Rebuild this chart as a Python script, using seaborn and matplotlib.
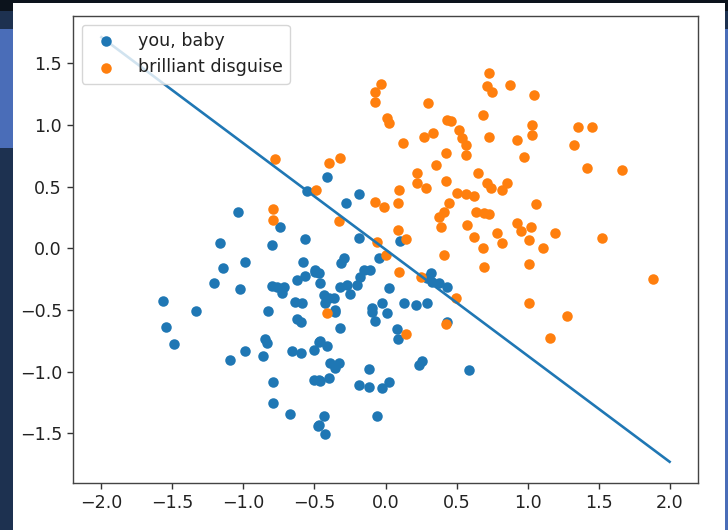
import numpy as np
import pandas as pd
import matplotlib
matplotlib.use("Agg")
import matplotlib.pyplot as plt
from matplotlib.patches import Rectangle
import seaborn as sns

# Class labels
class_names = ["you, baby", "brilliant disguise"]

# Class 0 samples
baby_x = [-1.036, -0.746, -0.553, -1.165, -0.80, -0.57, -0.989, -1.146, -0.581, -1.208,
          -1.024, -0.80, -0.765, -0.718, -0.729, -0.624, -0.565, -0.494, -1.566, -1.335,
          -0.829, -0.636, -0.588, -0.624, -0.593, -1.547, -1.488, -0.845, -0.836, -0.986,
          -1.095, -0.864, -0.659, -0.593, -0.501, -0.471, -0.793, -0.506, -0.471, -0.793,
          -0.675, -0.475, -0.353, -0.094, -0.071, 0.012, -0.318, 0.078, 0.087, 0.43,
          -0.459, -0.412, -0.388, -0.33, -0.353, -0.118, 0.235, 0.259, 0.588, -0.459,
          -0.40, -0.188, -0.118, -0.023, 0.024, -0.059, -0.436, -0.471, -0.424, -0.412,
          -0.188, -0.275, 0.101, -0.188, -0.047, -0.294, -0.313, -0.494, -0.471, -0.153,
          -0.106, -0.177, -0.2, -0.459, -0.318, -0.271, -0.247, 0.024, -0.436, -0.4,
          -0.365, -0.424, -0.353, -0.094, -0.024, 0.129, 0.212, 0.294, 0.294, 0.33,
          0.376, 0.436, 0.318]
baby_y = [0.297, 0.175, 0.467, 0.045, 0.024, 0.073, -0.109, -0.162, -0.109, -0.284,
          -0.333, -0.306, -0.316, -0.311, -0.365, -0.257, -0.225, -0.19, -0.425, -0.506,
          -0.506, -0.433, -0.441, -0.57, -0.60, -0.641, -0.779, -0.738, -0.766, -0.833,
          -0.906, -0.873, -0.833, -0.847, -0.825, -0.757, -1.087, -1.068, -1.068, -1.252,
          -1.346, -1.439, -0.514, -0.514, -0.587, -0.527, -0.649, -0.654, -0.738, -0.60,
          -0.749, -0.792, -0.933, -0.928, -0.973, -0.981, -0.946, -0.912, -0.987, -1.074,
          -1.054, -1.109, -1.122, -1.135, -1.082, -1.357, -1.36, -1.433, -1.509, 0.581,
          0.44, 0.37, 0.062, 0.086, -0.081, -0.081, -0.122, -0.176, -0.203, -0.176,
          -0.176, -0.23, -0.298, -0.284, -0.311, -0.298, -0.371, -0.324, -0.379, -0.406,
          -0.406, -0.446, -0.5, -0.487, -0.446, -0.446, -0.46, -0.446, -0.243, -0.271,
          -0.284, -0.311, -0.203]

# Class 1 samples
disguise_x = [-0.789, -0.789, -0.487, -0.78, -0.395, -0.318, -0.412, 0.141, 0.424, -0.33,
              -0.071, -0.012, 0.094, 0.087, 0.224, 0.282, 0.224, 0.424, 0.648, 0.718,
              0.506, 0.565, 0.624, 0.447, 0.412, 0.376, 0.636, 0.694, 0.388, 0.577,
              0.624, 0.683, 0.412, 0.694, 0.087, 0.141, -0.059, 0.0, 0.094, 0.247,
              0.494, 0.73, 0.718, 0.753, 0.878, -0.035, -0.071, -0.071, 0.299, 0.012,
              0.024, 0.436, 0.459, 0.683, 0.518, 0.541, 0.565, 0.565, 0.271, 0.337,
              0.73, 0.923, 0.972, 0.125, 0.429, 0.353, 0.855, 0.817, 1.047, 1.031,
              1.031, 1.358, 1.453, 1.326, 1.419, 1.665, 0.742, 1.059, 0.73, 0.925,
              0.953, 1.024, 1.012, 1.193, 1.523, 0.784, 0.817, 1.111, 1.012, 1.883,
              1.012, 1.278, 1.16]
disguise_y = [0.316, 0.23, 0.473, 0.72, 0.69, 0.73, -0.527, -0.697, -0.614, 0.224,
              0.373, 0.333, 0.473, 0.37, 0.608, 0.487, 0.527, 0.548, 0.608, 0.527,
              0.446, 0.44, 0.424, 0.365, 0.297, 0.256, 0.297, 0.289, 0.17, 0.189,
              0.094, 0.0, -0.054, -0.149, 0.148, 0.075, 0.054, -0.054, -0.19, -0.23,
              -0.405, 1.424, 1.311, 1.27, 1.324, 1.333, 1.27, 1.189, 1.181, 1.054,
              1.014, 1.041, 1.035, 1.081, 0.959, 0.892, 0.838, 0.757, 0.905, 0.938,
              0.905, 0.878, 0.743, 0.851, 0.77, 0.676, 0.532, 0.473, 1.243, 1.0,
              0.919, 0.986, 0.986, 0.838, 0.649, 0.635, 0.487, 0.359, 0.278, 0.208,
              0.143, 0.175, 0.067, 0.127, 0.081, 0.127, 0.045, 0.005, -0.127, -0.251,
              -0.446, -0.549, -0.73]

# Decision boundary endpoints
boundary_x = [-2.0, 2.0]
boundary_y = [1.71, -1.73]

baby = pd.DataFrame({"x": baby_x, "y": baby_y})
disguise = pd.DataFrame({"x": disguise_x, "y": disguise_y})
boundary = pd.DataFrame({"x": boundary_x, "y": boundary_y})

S = 1.26  # overall scale factor
plt.rcParams.update({
    "font.family": "DejaVu Sans",
    "font.size": 10 * S,
    "axes.linewidth": 0.8 * S,
    "xtick.major.size": 3.5 * S,
    "ytick.major.size": 3.5 * S,
    "xtick.major.width": 0.8 * S,
    "ytick.major.width": 0.8 * S,
    "text.color": "#222222",
    "xtick.color": "#333333",
    "ytick.color": "#333333",
    "xtick.labelcolor": "#222222",
    "ytick.labelcolor": "#222222",
    "axes.edgecolor": "#444444",
})

fig = plt.figure(figsize=(7.28, 5.30), dpi=100)
fig.patch.set_facecolor("#1a2a3f")

# Surrounding slide backdrop
fig.patches.append(Rectangle((0, 0), 1, 1, transform=fig.transFigure,
                             facecolor="#1d3150", edgecolor="none", zorder=-3))
fig.patches.append(Rectangle((0, 0.98), 1, 0.02, transform=fig.transFigure,
                             facecolor="#0c131c", edgecolor="none", zorder=-2))
fig.patches.append(Rectangle((0, 0.72), 0.02, 0.225, transform=fig.transFigure,
                             facecolor="#4a6db8", edgecolor="none", zorder=-2))
fig.patches.append(Rectangle((0.994, 0.0), 0.006, 0.945, transform=fig.transFigure,
                             facecolor="#4a6db8", edgecolor="none", zorder=-2))
fig.patches.append(Rectangle((13 / 728, 0), (725 - 13) / 728, 1 - 3 / 530,
                             transform=fig.transFigure, facecolor="white",
                             edgecolor="none", zorder=-1))

ax = fig.add_axes([73 / 728, 47 / 530, 625 / 728, 467 / 530])

sns.scatterplot(data=baby, x="x", y="y", ax=ax, color="#1f77b4",
                s=36 * S * S, linewidth=0, label=class_names[0])
sns.scatterplot(data=disguise, x="x", y="y", ax=ax, color="#ff7f0e",
                s=36 * S * S, linewidth=0, label=class_names[1])
sns.lineplot(data=boundary, x="x", y="y", ax=ax, color="#1f77b4",
             linewidth=1.5 * S, sort=False)

ax.set_xlabel("")
ax.set_ylabel("")
ax.margins(0.05)
ax.legend(loc="upper left", scatterpoints=1, frameon=True, framealpha=0.8,
          edgecolor="#cccccc")

fig.savefig("out.png", dpi=100, facecolor=fig.get_facecolor())
